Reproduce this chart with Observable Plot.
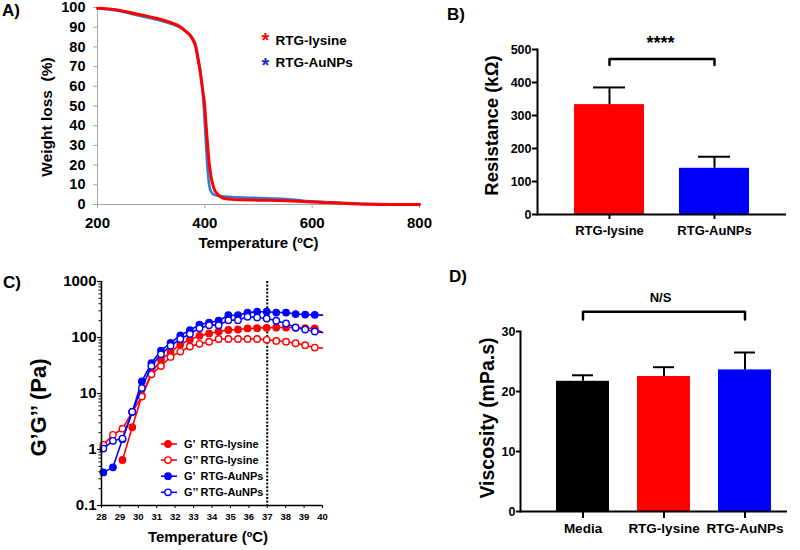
<!DOCTYPE html>
<html><head><meta charset="utf-8">
<script src="https://cdn.jsdelivr.net/npm/d3@7"></script>
<script src="https://cdn.jsdelivr.net/npm/@observablehq/plot@0.6"></script>
<style>
body{margin:0;background:#fff;}
#fig{position:relative;width:800px;height:550px;overflow:hidden;background:#fff;}
#fig svg{position:absolute;overflow:visible;max-width:none;}
</style></head><body><div id="fig"></div>
<script>
// ================= DATA =================
// Panel A – TGA
const tgaTempLysine = [200,220,240,260,280,300,320,340,355,365,372,378,383,387,391,394,397,399.5,401,403,405,407,409,412,415,418,422,427,432,440,450,470,500,550,600,650,700,750,800];
const tgaWeightLysine = [99.6,99.3,98.6,97.5,96.3,95.1,93.8,92.0,90.0,87.8,86.0,83.5,80,74,68,62,56,51,45,38,31,24,19,13.5,10,7.5,5.8,4.4,3.5,2.9,2.6,2.4,2.2,1.9,1.3,0.7,0.15,0,0];
const tgaTempAuNPs = [200,220,240,260,280,300,320,340,355,365,372,378,383,387,391,394,396.5,398,399.5,401,402.5,404,406,408,410,413,417,422,430,450,500,550,600,650,700,750,800];
const tgaWeightAuNPs = [99.5,99.0,98.2,97.0,95.7,94.5,93.2,91.5,89.8,87.8,86.2,84,81,75.5,69,63,56,50,43,36,29,22,15,10,7.5,6,5,4.6,4.2,3.8,3.3,2.8,1.6,0.9,0.4,0.1,0];
const tgaXTicks = [200,400,600,800];
const tgaYTicks = [0,10,20,30,40,50,60,70,80,90,100];
const tgaSeriesNames = ["RTG-lysine","RTG-AuNPs"];

// Panel B – Resistance
const resistanceGroups = ["RTG-lysine","RTG-AuNPs"];
const resistanceMean = [333, 140];
const resistanceErr = [52, 35];
const resistanceColors = ["#ff0000","#0000ff"];
const resistanceTicks = [0,100,200,300,400,500];
const resistanceSig = "****";
const resistanceBracket = [471, 453];

// Panel C – Rheology
const rheoTemp = [28.1,28.62,29.14,29.67,30.19,30.71,31.23,31.75,32.28,32.8,33.32,33.84,34.36,34.89,35.41,35.93,36.45,36.97,37.49,38.02,38.54,39.06,39.58,40.0];
const gPrimeLysine  = [null,null,0.65,2.5,9.1,23,40,55,75,92,107,118,128,136,139,145,147,149,151,151,149,147,145,123];
const gDPrimeLysine = [1.21,1.83,2.35,4.7,8.8,22,31,45,56,69,77,84,94,94,94,94,94,91,87,84,79,73,66,65];
const gPrimeAuNPs   = [0.39,0.48,1.53,4.7,16.4,35,58,80,109,135,169,185,199,250,250,278,288,288,279,279,262,257,254,251];
const gDPrimeAuNPs  = [1.04,1.43,1.57,4.7,12.5,31,50,71,94,116,147,166,166,204,204,234,228,219,199,178,151,139,128,123];
const rheoXTicks = [28,29,30,31,32,33,34,35,36,37,38,39,40];
const rheoYTicks = [0.1,1,10,100,1000];
const gelTemp = 37;
const rheoLabels = [["G’","RTG-lysine"],["G’’","RTG-lysine"],["G’","RTG-AuNPs"],["G’’","RTG-AuNPs"]];

// Panel D – Viscosity
const viscGroups = ["Media","RTG-lysine","RTG-AuNPs"];
const viscMean = [21.7, 22.5, 23.6];
const viscErr = [1.0, 1.55, 2.9];
const viscColors = ["#000000","#ff0000","#0000ff"];
const viscTicks = [0,10,20,30];
const viscSig = "N/S";
const viscBracket = [33.3, 32];

// ================= BUILD =================
const FONT = "'Liberation Sans', Arial, Helvetica, sans-serif";
const baseStyle = {fontFamily: FONT, fontWeight: "bold", background: "transparent", overflow: "visible", color: "black"};
const fig = document.getElementById("fig");
function place(svg, left, top) { svg.style.left = left + "px"; svg.style.top = top + "px"; fig.appendChild(svg); }
const T = {fontWeight: "bold", textAnchor: "middle", lineAnchor: "middle"};

// ---- Panel A ----
const tgaLys = tgaTempLysine.map((t, i) => ({t, w: tgaWeightLysine[i]}));
const tgaAu = tgaTempAuNPs.map((t, i) => ({t, w: tgaWeightAuNPs[i]}));
const A = Plot.plot({
  width: 440, height: 260, marginLeft: 97, marginRight: 21, marginTop: 7, marginBottom: 56,
  style: baseStyle,
  x: {domain: [200, 800]}, y: {domain: [0, 100]},
  marks: [
    Plot.ruleX([200], {stroke: "#a6a6a6", strokeWidth: 1}),
    Plot.ruleY([0], {stroke: "#a6a6a6", strokeWidth: 1}),
    Plot.axisX({ticks: tgaXTicks, tickSize: 4, stroke: "#a6a6a6", tickFormat: () => "", label: null}),
    Plot.axisY({ticks: tgaYTicks, tickSize: 4, stroke: "#a6a6a6", tickFormat: () => "", label: null}),
    Plot.axisX({ticks: tgaXTicks, tickSize: 0, tickPadding: 13, fontSize: 15, fontWeight: "bold", label: null}),
    Plot.axisY({ticks: tgaYTicks, tickSize: 0, tickPadding: 12, fontSize: 14.5, fontWeight: "bold", label: null}),
    Plot.line(tgaAu, {x: "t", y: "w", stroke: "#2f7fd6", strokeWidth: 2.6, curve: "monotone-x"}),
    Plot.line(tgaLys, {x: "t", y: "w", stroke: "#ff0000", strokeWidth: 3, curve: "monotone-x"}),
    Plot.text(["Temperature (ºC)"], {...T, frameAnchor: "bottom", dy: 39, fontSize: 15}),
    Plot.text(["Weight loss\u00a0\u00a0(%)"], {...T, frameAnchor: "left", rotate: -90, dx: -50, dy: 11, fontSize: 15.5}),
    Plot.text(["*"], {...T, frameAnchor: "top-left", dx: 168, dy: 33, fontSize: 20, fill: "#ff0000"}),
    Plot.text(["*"], {...T, frameAnchor: "top-left", dx: 168, dy: 58.5, fontSize: 20, fill: "#2a2ab8"}),
    Plot.text([tgaSeriesNames[0]], {...T, frameAnchor: "top-left", dx: 178, dy: 33, textAnchor: "start", fontSize: 13.5}),
    Plot.text([tgaSeriesNames[1]], {...T, frameAnchor: "top-left", dx: 178, dy: 54.7, textAnchor: "start", fontSize: 13.5})
  ]
});
place(A, 0, 0);

// ---- Panel B ----
const resData = resistanceGroups.map((g, i) => ({g, m: resistanceMean[i], e: resistanceErr[i], c: resistanceColors[i]}));
const resBr = [
  {g: resistanceGroups[0], v: resistanceBracket[1]}, {g: resistanceGroups[0], v: resistanceBracket[0]},
  {g: resistanceGroups[1], v: resistanceBracket[0]}, {g: resistanceGroups[1], v: resistanceBracket[1]}
];
const B = Plot.plot({
  width: 400, height: 260, marginLeft: 137, marginRight: 14, marginTop: 49, marginBottom: 46,
  style: baseStyle,
  x: {type: "band", domain: resistanceGroups, range: [173, 350], paddingInner: 0.33, paddingOuter: 0},
  y: {domain: [0, 500]},
  color: {type: "identity"},
  marks: [
    Plot.barY(resData, {x: "g", y: "m", fill: "c"}),
    Plot.ruleX(resData, {x: "g", y1: "m", y2: d => d.m + d.e, strokeWidth: 2}),
    Plot.tickY(resData, {x: "g", y: d => d.m + d.e, strokeWidth: 2, insetLeft: 19, insetRight: 19}),
    Plot.frame({anchor: "left", strokeWidth: 2}),
    Plot.ruleY([0], {strokeWidth: 2}),
    Plot.axisY({ticks: resistanceTicks, tickSize: 5, tickPadding: 1, strokeWidth: 2, fontSize: 12.5, fontWeight: "bold", label: null}),
    Plot.axisX({tickSize: 5, tickPadding: 6.5, strokeWidth: 2, fontSize: 13, fontWeight: "bold", label: null}),
    Plot.line(resBr, {x: "g", y: "v", strokeWidth: 2.5}),
    Plot.text([resistanceSig], {...T, frameAnchor: "top", dx: -1.5, dy: -6, fontSize: 18}),
    Plot.text(["Resistance (kΩ)"], {...T, frameAnchor: "left", rotate: -90, dx: -45, dy: -6.5, fontSize: 18.5})
  ]
});
place(B, 400, 0);

// ---- Panel C ----
const series = [
  {vals: gPrimeLysine, color: "#ff0000", filled: true},
  {vals: gDPrimeLysine, color: "#ff0000", filled: false},
  {vals: gPrimeAuNPs, color: "#0000ff", filled: true},
  {vals: gDPrimeAuNPs, color: "#0000ff", filled: false}
];
const rheoMarks = [];
for (const s of series) {
  const d = rheoTemp.map((t, i) => ({t, v: s.vals[i], i}));
  rheoMarks.push(Plot.line(d, {x: "t", y: "v", stroke: s.color, strokeWidth: 1.6}));
  rheoMarks.push(Plot.dot(d.filter(p => p.i < rheoTemp.length - 1 && p.v != null), {x: "t", y: "v", r: 3.2,
    fill: s.filled ? s.color : "white", stroke: s.color, strokeWidth: 1.4}));
}
const minorTicks = [];
for (let e = -1; e < 3; e++) for (let k = 2; k <= 9; k++) minorTicks.push(k * Math.pow(10, e));
const C = Plot.plot({
  width: 400, height: 285, marginLeft: 101, marginRight: 78, marginTop: 16, marginBottom: 45,
  style: baseStyle,
  x: {domain: [28, 40]}, y: {type: "log", domain: [0.1, 1000]},
  marks: [
    Plot.ruleX([gelTemp], {strokeDasharray: "2,1.6", strokeWidth: 2}),
    ...rheoMarks,
    Plot.ruleX([28], {strokeWidth: 1.5}),
    Plot.ruleY([0.1], {strokeWidth: 1.5}),
    Plot.axisY({ticks: minorTicks, tickSize: 2.5, tickFormat: () => "", label: null}),
    Plot.axisY({ticks: rheoYTicks, tickSize: 4, tickPadding: 1, strokeWidth: 1.2, tickFormat: d => String(d), fontSize: 15, fontWeight: "bold", label: null}),
    Plot.axisX({ticks: rheoXTicks, tickSize: 3, tickPadding: 5, tickFormat: d => String(d), fontSize: 9.5, fontWeight: "bold", label: null}),
    Plot.text(["Temperature (ºC)"], {...T, frameAnchor: "bottom", dy: 32, dx: -4, fontSize: 15}),
    Plot.text(["G’G’’ (Pa)"], {...T, frameAnchor: "left", rotate: -90, dx: -63, dy: 14, fontSize: 22})
  ]
});
// legend
{
  const g = d3.select(C).append("g").attr("font-family", FONT).attr("font-weight", "bold").attr("font-size", 11).attr("text-anchor", "start");
  series.forEach((s, i) => {
    const y = 179 + i * 16.1;
    g.append("line").attr("x1", 161).attr("x2", 177).attr("y1", y).attr("y2", y).attr("stroke", s.color).attr("stroke-width", 1.6);
    g.append("circle").attr("cx", 168).attr("cy", y).attr("r", 3.2).attr("fill", s.filled ? s.color : "white").attr("stroke", s.color).attr("stroke-width", 1.4);
    g.append("text").attr("x", 184).attr("y", y).attr("dy", "0.36em").text(rheoLabels[i][0]);
    g.append("text").attr("x", 200.5).attr("y", y).attr("dy", "0.36em").text(rheoLabels[i][1]);
  });
}
place(C, 0, 265);

// ---- Panel D ----
const viscData = viscGroups.map((g, i) => ({g, m: viscMean[i], e: viscErr[i], c: viscColors[i]}));
const viscBr = [
  {g: viscGroups[0], v: viscBracket[1]}, {g: viscGroups[0], v: viscBracket[0]},
  {g: viscGroups[2], v: viscBracket[0]}, {g: viscGroups[2], v: viscBracket[1]}
];
const D = Plot.plot({
  width: 400, height: 285, marginLeft: 120, marginRight: 13, marginTop: 66, marginBottom: 39,
  style: baseStyle,
  x: {type: "band", domain: viscGroups, range: [155, 371], paddingInner: 0.35, paddingOuter: 0},
  y: {domain: [0, 30]},
  color: {type: "identity"},
  marks: [
    Plot.barY(viscData, {x: "g", y: "m", fill: "c"}),
    Plot.ruleX(viscData, {x: "g", y1: "m", y2: d => d.m + d.e, strokeWidth: 2}),
    Plot.tickY(viscData, {x: "g", y: d => d.m + d.e, strokeWidth: 2, insetLeft: 16, insetRight: 16}),
    Plot.frame({anchor: "left", strokeWidth: 2}),
    Plot.ruleY([0], {strokeWidth: 2}),
    Plot.axisY({ticks: viscTicks, tickSize: 4, tickPadding: 1, strokeWidth: 2, fontSize: 12.5, fontWeight: "bold", label: null}),
    Plot.axisX({tickSize: 7, tickPadding: 5, strokeWidth: 2, fontSize: 13.5, fontWeight: "bold", label: null}),
    Plot.line(viscBr, {x: "g", y: "v", strokeWidth: 2.5}),
    Plot.text([viscSig], {...T, frameAnchor: "top", dx: 6.5, dy: -34, fontSize: 13}),
    Plot.text(["Viscosity (mPa.s)"], {...T, frameAnchor: "left", rotate: -90, dx: -32.5, dy: -3.5, fontSize: 19.5})
  ]
});
place(D, 400, 265);

// ---- panel letters ----
{
  const ov = d3.select(fig).append("svg").attr("width", 800).attr("height", 550)
    .style("left", "0px").style("top", "0px").style("pointer-events", "none")
    .attr("font-family", FONT).attr("font-weight", "bold").attr("font-size", 17);
  [["A)", 2, 15.5], ["B)", 447, 20], ["C)", 3, 288.3], ["D)", 449, 282]].forEach(([t, x, y]) =>
    ov.append("text").attr("x", x).attr("y", y).text(t));
}
</script></body></html>
